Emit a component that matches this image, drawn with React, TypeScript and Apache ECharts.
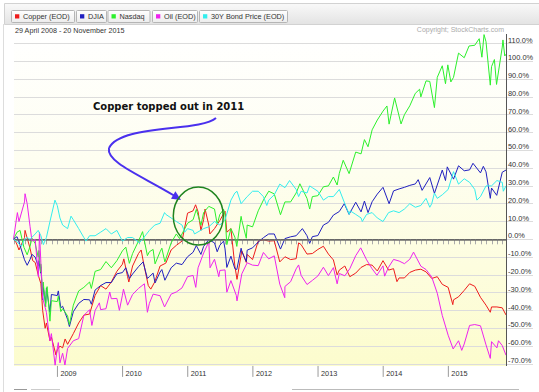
import React, { useEffect, useRef } from "react";
import * as echarts from "echarts";

// ---------- DATA (percent change since 29 April 2008) ----------
const copperData: [string, number][] = [
  ["2008-04-29", 0], ["2008-05-15", -2], ["2008-05-30", -6], ["2008-06-30", 1], ["2008-07-03", 5],
  ["2008-07-31", -5], ["2008-08-15", -12], ["2008-08-29", -13], ["2008-09-15", -20], ["2008-09-30", -25],
  ["2008-10-10", -40], ["2008-10-24", -50], ["2008-10-31", -47], ["2008-11-20", -57], ["2008-11-28", -55],
  ["2008-12-24", -65], ["2008-12-31", -62], ["2009-01-15", -60], ["2009-01-30", -61], ["2009-02-13", -56],
  ["2009-02-27", -59], ["2009-03-31", -53], ["2009-04-30", -47], ["2009-05-29", -42.6], ["2009-06-30", -42],
  ["2009-07-31", -31.5], ["2009-08-31", -26], ["2009-09-30", -28], ["2009-10-30", -24], ["2009-11-30", -18],
  ["2009-12-31", -14], ["2010-01-08", -11], ["2010-01-29", -21], ["2010-02-05", -24], ["2010-02-26", -15],
  ["2010-03-31", -8], ["2010-04-15", -6], ["2010-04-30", -14], ["2010-05-25", -26], ["2010-06-08", -28],
  ["2010-06-30", -24], ["2010-07-30", -15], ["2010-08-31", -13.4], ["2010-09-30", -6], ["2010-10-29", -3.4],
  ["2010-11-30", -1], ["2010-12-31", 14.7], ["2011-01-31", 16], ["2011-02-14", 19.4], ["2011-02-28", 15.5],
  ["2011-03-16", 5], ["2011-03-31", 11], ["2011-04-08", 17], ["2011-04-29", 8], ["2011-05-05", 3],
  ["2011-05-31", 6], ["2011-06-30", 10.6], ["2011-07-29", 15.8], ["2011-08-08", 4], ["2011-08-31", 6],
  ["2011-09-22", -15], ["2011-10-04", -22.5], ["2011-10-31", -6.5], ["2011-11-25", -13], ["2011-11-30", -8.5],
  ["2011-12-30", -11.4], ["2012-01-31", -1], ["2012-02-29", -0.3], ["2012-03-30", -1], ["2012-04-30", -0.8],
  ["2012-05-31", -12.7], ["2012-06-29", -9.8], ["2012-07-31", -11.4], ["2012-08-31", -10.9], ["2012-09-14", -2],
  ["2012-09-28", -3], ["2012-10-31", -8.3], ["2012-11-30", -8], ["2012-12-31", -5.7], ["2013-01-31", -3.9],
  ["2013-02-28", -8.3], ["2013-03-28", -11.6], ["2013-04-18", -20], ["2013-04-30", -17.3], ["2013-05-31", -15],
  ["2013-06-28", -21], ["2013-07-31", -19], ["2013-08-30", -15.8], ["2013-09-30", -14.2], ["2013-10-31", -14.5],
  ["2013-11-29", -17.8], ["2013-12-31", -12], ["2014-01-31", -17.3], ["2014-02-28", -16.5], ["2014-03-19", -23.8],
  ["2014-03-31", -21.7], ["2014-04-30", -21.7], ["2014-05-30", -18.6], ["2014-06-30", -17.3], ["2014-07-31", -16.8],
  ["2014-08-29", -18.3], ["2014-09-30", -22], ["2014-10-31", -21], ["2014-11-28", -25.3], ["2014-12-31", -27],
  ["2015-01-26", -36.7], ["2015-01-30", -34], ["2015-02-27", -32.3], ["2015-03-31", -28.7], ["2015-04-30", -25],
  ["2015-05-29", -26.4], ["2015-06-30", -32.6], ["2015-07-31", -37], ["2015-08-24", -41], ["2015-08-31", -38],
  ["2015-09-30", -38], ["2015-10-30", -38.5], ["2015-11-20", -42.5],
];

const djiaData: [string, number][] = [
  ["2008-04-29", 0], ["2008-05-19", 1.5], ["2008-05-30", -1.5], ["2008-06-30", -11.5], ["2008-07-15", -14.6],
  ["2008-07-31", -11.3], ["2008-08-11", -8.5], ["2008-08-29", -10], ["2008-09-15", -15], ["2008-09-19", -12],
  ["2008-09-29", -19], ["2008-09-30", -15.4], ["2008-10-10", -34], ["2008-10-13", -27], ["2008-10-27", -36],
  ["2008-10-31", -27.3], ["2008-11-20", -41], ["2008-11-28", -31], ["2008-12-31", -31.6], ["2009-01-06", -29],
  ["2009-01-20", -38.5], ["2009-01-30", -37.6], ["2009-02-27", -45], ["2009-03-09", -49], ["2009-03-31", -40.7],
  ["2009-04-30", -36], ["2009-05-29", -33.8], ["2009-06-30", -34], ["2009-07-10", -36.5], ["2009-07-31", -28.5],
  ["2009-08-31", -26], ["2009-09-30", -24.3], ["2009-10-30", -24.3], ["2009-11-30", -19.4], ["2009-12-31", -18.7],
  ["2010-01-19", -16], ["2010-02-08", -22], ["2010-02-26", -19.5], ["2010-03-31", -15.4], ["2010-04-26", -12.7],
  ["2010-05-20", -22], ["2010-05-31", -21], ["2010-06-21", -19], ["2010-07-02", -24.5], ["2010-07-30", -18.4],
  ["2010-08-09", -17], ["2010-08-26", -23], ["2010-09-30", -16], ["2010-10-29", -13.4], ["2010-11-30", -14.2],
  ["2010-12-31", -9.8], ["2011-01-31", -7.3], ["2011-02-18", -3.5], ["2011-03-16", -8.5], ["2011-03-31", -4],
  ["2011-04-29", -0.2], ["2011-05-31", -2], ["2011-06-15", -7], ["2011-06-30", -3.3], ["2011-07-21", -1],
  ["2011-07-29", -5.4], ["2011-08-08", -15.8], ["2011-08-31", -9.5], ["2011-09-22", -16.5], ["2011-10-03", -17],
  ["2011-10-27", -5], ["2011-10-31", -6.8], ["2011-11-25", -12.5], ["2011-11-30", -6.1], ["2011-12-30", -4.8],
  ["2012-01-31", -1.5], ["2012-02-29", 0.9], ["2012-03-30", 3], ["2012-04-30", 3], ["2012-06-04", -5.5],
  ["2012-06-29", 0.4], ["2012-07-31", 1.4], ["2012-08-31", 2], ["2012-10-05", 6], ["2012-10-31", 2],
  ["2012-11-15", -2.3], ["2012-11-30", 1.5], ["2012-12-31", 2.1], ["2013-01-31", 8], ["2013-02-28", 9.5],
  ["2013-03-28", 13.6], ["2013-04-30", 15.6], ["2013-05-28", 20], ["2013-06-24", 14], ["2013-07-31", 20.8],
  ["2013-08-30", 15.4], ["2013-09-18", 21.5], ["2013-10-08", 15], ["2013-10-31", 21.1], ["2013-11-29", 25.4],
  ["2013-12-31", 29.2], ["2014-02-03", 20], ["2014-02-28", 27.2], ["2014-03-31", 28.3], ["2014-04-30", 29.2],
  ["2014-05-30", 30.3], ["2014-06-30", 31.1], ["2014-07-16", 33.5], ["2014-08-07", 27.5], ["2014-09-19", 34.7],
  ["2014-10-15", 25.8], ["2014-11-28", 38.9], ["2014-12-16", 33], ["2014-12-26", 40.7], ["2015-01-30", 33.8],
  ["2015-02-27", 41.3], ["2015-03-31", 38.5], ["2015-04-30", 39], ["2015-05-19", 42.7], ["2015-06-30", 37.3],
  ["2015-07-16", 41], ["2015-07-31", 37.9], ["2015-08-24", 23], ["2015-08-31", 28.8], ["2015-09-29", 24.7],
  ["2015-10-30", 37.7], ["2015-11-20", 38.9],
];

const nasdaqData: [string, number][] = [
  ["2008-04-29", 0], ["2008-05-19", 4], ["2008-06-05", 5], ["2008-06-27", -4.6], ["2008-07-15", -8.7],
  ["2008-07-31", -4], ["2008-08-11", 0.6], ["2008-08-29", -2.4], ["2008-09-15", -10], ["2008-09-19", -6.3],
  ["2008-09-29", -18.3], ["2008-09-30", -14], ["2008-10-10", -32], ["2008-10-13", -24], ["2008-10-27", -38],
  ["2008-10-31", -29], ["2008-11-04", -26.6], ["2008-11-20", -46], ["2008-11-28", -34.5], ["2008-12-31", -35],
  ["2009-01-06", -31.9], ["2009-01-20", -40.6], ["2009-01-30", -39], ["2009-02-27", -43], ["2009-03-09", -48],
  ["2009-03-31", -37], ["2009-04-30", -29], ["2009-05-29", -27], ["2009-06-30", -24], ["2009-07-10", -27.6],
  ["2009-07-31", -18], ["2009-08-31", -17], ["2009-09-30", -12.5], ["2009-10-30", -16], ["2009-11-30", -12],
  ["2009-12-31", -6.5], ["2010-01-19", -4.4], ["2010-02-08", -13.5], ["2010-02-26", -8], ["2010-03-31", -1],
  ["2010-04-23", 4.3], ["2010-05-20", -9.2], ["2010-05-31", -7], ["2010-06-21", -5.7], ["2010-07-02", -13.8],
  ["2010-07-30", -7], ["2010-08-09", -5], ["2010-08-26", -12.7], ["2010-09-30", -2], ["2010-10-29", 3],
  ["2010-11-16", 0.4], ["2010-11-30", 3], ["2010-12-31", 9], ["2011-01-31", 11], ["2011-02-18", 16.8],
  ["2011-03-16", 7.9], ["2011-03-31", 15], ["2011-04-29", 18.5], ["2011-05-31", 17], ["2011-06-15", 8.5],
  ["2011-06-30", 14], ["2011-07-21", 16.8], ["2011-07-29", 13.6], ["2011-08-08", -3], ["2011-08-31", 6],
  ["2011-09-22", 1.2], ["2011-10-03", -4], ["2011-10-27", 12.9], ["2011-10-31", 10.6], ["2011-11-25", 0.6],
  ["2011-11-30", 8], ["2011-12-30", 7], ["2012-01-31", 16], ["2012-02-29", 22], ["2012-03-30", 27],
  ["2012-04-30", 25.5], ["2012-06-04", 13.8], ["2012-06-29", 21], ["2012-07-31", 21], ["2012-08-31", 26],
  ["2012-09-21", 31.2], ["2012-10-31", 23], ["2012-11-15", 17], ["2012-11-30", 24], ["2012-12-31", 24.5],
  ["2013-01-31", 29.5], ["2013-02-28", 30], ["2013-03-28", 35], ["2013-04-18", 30.5], ["2013-04-30", 37],
  ["2013-05-22", 44.4], ["2013-06-24", 36.9], ["2013-07-31", 49], ["2013-08-30", 48], ["2013-09-18", 56],
  ["2013-10-08", 52], ["2013-10-31", 61.5], ["2013-11-29", 67], ["2013-12-31", 72], ["2014-01-22", 74.9],
  ["2014-02-03", 64.7], ["2014-03-06", 79.4], ["2014-04-11", 64.8], ["2014-04-30", 70], ["2014-05-30", 75],
  ["2014-06-30", 82], ["2014-07-24", 84.3], ["2014-07-31", 80], ["2014-08-29", 89], ["2014-09-19", 88.7],
  ["2014-10-15", 74], ["2014-10-31", 91], ["2014-11-28", 97.5], ["2014-12-16", 87.4], ["2014-12-29", 98],
  ["2015-01-15", 88.4], ["2015-01-30", 91], ["2015-02-27", 104.6], ["2015-03-31", 102], ["2015-04-27", 108.6],
  ["2015-05-29", 109], ["2015-06-23", 112.7], ["2015-07-08", 102.3], ["2015-07-20", 115], ["2015-07-31", 111],
  ["2015-08-24", 86.6], ["2015-08-31", 97], ["2015-09-16", 101], ["2015-09-28", 87], ["2015-10-30", 108],
  ["2015-11-03", 112], ["2015-11-13", 103], ["2015-11-20", 104],
];

const oilData: [string, number][] = [
  ["2008-04-29", 0], ["2008-05-21", 15], ["2008-05-30", 10], ["2008-06-30", 21], ["2008-07-03", 25.6],
  ["2008-07-15", 20], ["2008-07-31", 7.3], ["2008-08-11", -1], ["2008-08-29", 0], ["2008-09-16", -21],
  ["2008-09-22", 4], ["2008-09-30", -13], ["2008-10-10", -33], ["2008-10-31", -41], ["2008-11-20", -57],
  ["2008-11-28", -53], ["2008-12-19", -70.7], ["2008-12-31", -61.4], ["2009-01-06", -58], ["2009-01-15", -69.4],
  ["2009-01-30", -64], ["2009-02-12", -70.6], ["2009-02-27", -61.3], ["2009-03-31", -57], ["2009-04-30", -55.8],
  ["2009-05-29", -42.7], ["2009-06-30", -39.6], ["2009-07-13", -48.4], ["2009-07-31", -40], ["2009-08-24", -35.7],
  ["2009-08-31", -39.5], ["2009-09-30", -39], ["2009-10-21", -29.6], ["2009-10-30", -33.4], ["2009-11-30", -33.2],
  ["2009-12-14", -39.9], ["2009-12-31", -31.4], ["2010-01-06", -28], ["2010-01-29", -37], ["2010-02-26", -31],
  ["2010-03-31", -27.6], ["2010-05-03", -25], ["2010-05-20", -41], ["2010-05-31", -36], ["2010-06-21", -30.8],
  ["2010-07-30", -31.7], ["2010-08-24", -38], ["2010-09-30", -30.8], ["2010-10-29", -29.6], ["2010-11-30", -27.3],
  ["2010-12-31", -21], ["2011-01-31", -20.3], ["2011-02-15", -27], ["2011-02-28", -16], ["2011-03-31", -7.7],
  ["2011-04-29", -1.5], ["2011-05-06", -16], ["2011-05-31", -11.2], ["2011-06-24", -21], ["2011-06-30", -17.5],
  ["2011-07-29", -17.2], ["2011-08-08", -29.7], ["2011-08-31", -23.2], ["2011-09-30", -31.5], ["2011-10-04", -34.6],
  ["2011-10-31", -19.4], ["2011-11-30", -13.2], ["2011-12-30", -14.5], ["2012-01-31", -14.8], ["2012-02-29", -7.4],
  ["2012-03-30", -11], ["2012-04-30", -9.3], ["2012-05-31", -25.2], ["2012-06-28", -32.8], ["2012-06-29", -26.5],
  ["2012-07-31", -23.8], ["2012-08-31", -16.6], ["2012-09-14", -14.4], ["2012-09-28", -20.3], ["2012-10-31", -25.4],
  ["2012-11-30", -23.1], ["2012-12-31", -20.6], ["2013-01-31", -15.7], ["2013-02-28", -20.4], ["2013-03-28", -15.9],
  ["2013-04-18", -25], ["2013-04-30", -19.2], ["2013-05-31", -20.5], ["2013-06-28", -16.5], ["2013-07-31", -9.2],
  ["2013-08-28", -4.8], ["2013-09-30", -11.5], ["2013-10-31", -16.6], ["2013-11-27", -20.2], ["2013-12-31", -14.9],
  ["2014-01-09", -20.7], ["2014-01-31", -15.7], ["2014-02-28", -11.3], ["2014-03-31", -12.2], ["2014-04-30", -13.7],
  ["2014-05-30", -11.2], ["2014-06-20", -7.2], ["2014-07-31", -15.1], ["2014-08-29", -17], ["2014-09-30", -21.2],
  ["2014-10-31", -30.3], ["2014-11-28", -42.8], ["2014-12-31", -53.9], ["2015-01-28", -61.6], ["2015-02-27", -57],
  ["2015-03-17", -62.4], ["2015-03-31", -58.8], ["2015-04-30", -48.4], ["2015-05-29", -47.9], ["2015-06-30", -48.6],
  ["2015-07-31", -59.3], ["2015-08-24", -66.9], ["2015-08-31", -57.5], ["2015-09-30", -61], ["2015-10-09", -57],
  ["2015-10-30", -59.7], ["2015-11-20", -65.1],
];

const bondData: [string, number][] = [
  ["2008-04-29", 0], ["2008-05-15", -1], ["2008-06-13", -4], ["2008-06-30", 0], ["2008-07-15", 1],
  ["2008-07-31", 0], ["2008-08-29", 3], ["2008-09-15", 5], ["2008-09-30", 2], ["2008-10-14", -3],
  ["2008-10-31", 1], ["2008-11-20", 10], ["2008-12-18", 22], ["2008-12-31", 19], ["2009-01-15", 12],
  ["2009-01-30", 8], ["2009-02-27", 6], ["2009-03-18", 13], ["2009-03-31", 11], ["2009-04-30", 6],
  ["2009-05-29", 1], ["2009-06-10", -1], ["2009-06-30", 2], ["2009-07-31", 2], ["2009-08-31", 4],
  ["2009-09-30", 6], ["2009-10-30", 3], ["2009-11-30", 5], ["2009-12-31", -1], ["2010-01-29", 1],
  ["2010-02-26", 1], ["2010-04-05", -2], ["2010-04-30", 1], ["2010-05-31", 5], ["2010-06-30", 8],
  ["2010-07-30", 9], ["2010-08-24", 15], ["2010-08-31", 14], ["2010-09-30", 12], ["2010-10-29", 10],
  ["2010-11-30", 8], ["2010-12-15", 4], ["2010-12-31", 6], ["2011-01-31", 5], ["2011-02-08", 3],
  ["2011-03-31", 6], ["2011-04-29", 7], ["2011-05-31", 10], ["2011-06-30", 8], ["2011-07-29", 11],
  ["2011-08-31", 22], ["2011-09-22", 26], ["2011-10-04", 27], ["2011-10-27", 20], ["2011-11-30", 24],
  ["2011-12-30", 27], ["2012-01-31", 27], ["2012-02-29", 24], ["2012-03-19", 19], ["2012-03-30", 22],
  ["2012-04-30", 25], ["2012-05-31", 31], ["2012-06-29", 29], ["2012-07-25", 33], ["2012-08-31", 28],
  ["2012-09-14", 24], ["2012-09-28", 27], ["2012-10-31", 26], ["2012-11-15", 30], ["2012-11-30", 29],
  ["2012-12-31", 27], ["2013-01-31", 22], ["2013-02-28", 24], ["2013-03-28", 24], ["2013-04-30", 28],
  ["2013-05-31", 20], ["2013-06-25", 14], ["2013-06-30", 16], ["2013-07-31", 14], ["2013-08-30", 12],
  ["2013-09-06", 10], ["2013-09-30", 14], ["2013-10-31", 15], ["2013-11-29", 12], ["2013-12-31", 10],
  ["2014-01-31", 15], ["2014-02-28", 16], ["2014-03-31", 15], ["2014-04-30", 17], ["2014-05-30", 20],
  ["2014-06-30", 18], ["2014-07-31", 19], ["2014-08-29", 23], ["2014-09-19", 18], ["2014-09-30", 20],
  ["2014-10-15", 26], ["2014-10-31", 23], ["2014-11-28", 25], ["2014-12-31", 28], ["2015-01-30", 38],
  ["2015-02-27", 31], ["2015-03-31", 34], ["2015-04-30", 32], ["2015-05-29", 28], ["2015-06-10", 22],
  ["2015-06-30", 24], ["2015-07-31", 30], ["2015-08-31", 30], ["2015-09-30", 33], ["2015-10-30", 32],
  ["2015-11-05", 27], ["2015-11-20", 30],
];

const seriesNames = ["Copper (EOD)", "DJIA", "Nasdaq", "Oil (EOD)", "30Y Bond Price (EOD)"];
const seriesColors = ["#ee1c1c", "#2020c0", "#2cf02c", "#ee22ee", "#33eeee"];
const seriesValues = [copperData, djiaData, nasdaqData, oilData, bondData];
const yearTicks = [2009, 2010, 2011, 2012, 2013, 2014, 2015];
const startDate = "2008-04-29";
const endDate = "2015-11-20";
const dateRangeText = "29 April 2008 - 20 November 2015";
const copyrightText = "Copyright; StockCharts.com";
const annotationText = "Copper topped out in 2011";

// ---------- helpers ----------
function toYear(s: string): number {
  const [y, m, d] = s.split("-").map(Number);
  const a = Date.UTC(y, 0, 1);
  const b = Date.UTC(y + 1, 0, 1);
  return y + (Date.UTC(y, m - 1, d) - a) / (b - a);
}

const FONT = '"Liberation Sans", Arial, Helvetica, sans-serif';

// legend button layout
const legendButtons = [
  { x: 11, w: 63 },
  { x: 76, w: 30 },
  { x: 107.5, w: 42 },
  { x: 152, w: 45 },
  { x: 199, w: 88 },
];

function buildGraphic(): any[] {
  const els: any[] = [];
  // page left border
  els.push({ type: "line", shape: { x1: 3.5, y1: 24, x2: 3.5, y2: 392 }, style: { stroke: "#dddddd", lineWidth: 1 }, z: -20 });
  // legend bar
  els.push({
    type: "rect",
    shape: { x: 4.5, y: 3.5, width: 540, height: 21 },
    style: {
      fill: new echarts.graphic.LinearGradient(0, 0, 0, 1, [
        { offset: 0, color: "#f9f9f9" },
        { offset: 1, color: "#e3e3e3" },
      ]),
      stroke: "#d2d2d2",
      lineWidth: 1,
    },
    z: -20,
  });
  legendButtons.forEach((b, i) => {
    els.push({
      type: "rect",
      shape: { x: b.x + 0.5, y: 10.5, width: b.w, height: 12, r: 1 },
      style: {
        fill: new echarts.graphic.LinearGradient(0, 0, 0, 1, [
          { offset: 0, color: "#ffffff" },
          { offset: 1, color: "#ececec" },
        ]),
        stroke: "#b5b5b5",
        lineWidth: 1,
      },
      z: -19,
    });
    els.push({
      type: "rect",
      shape: { x: b.x + 4, y: 14.2, width: 4.3, height: 4.3 },
      style: { fill: seriesColors[i] },
      z: -18,
    });
    els.push({
      type: "text",
      x: b.x + 12,
      y: 16.6,
      style: {
        text: seriesNames[i],
        fill: "#333333",
        font: `7.3px ${FONT}`,
        align: "left",
        verticalAlign: "middle",
        textAlign: "left",
        textVerticalAlign: "middle",
      },
      z: -18,
    });
  });
  // date text
  els.push({
    type: "text",
    x: 15,
    y: 30,
    style: { text: dateRangeText, fill: "#333333", font: `7.2px ${FONT}`, align: "left", verticalAlign: "middle", textAlign: "left", textVerticalAlign: "middle" },
    z: 5,
  });
  // copyright
  els.push({
    type: "text",
    x: 504,
    y: 29.5,
    style: { text: copyrightText, fill: "#ababab", font: `7px ${FONT}`, align: "right", verticalAlign: "middle", textAlign: "right", textVerticalAlign: "middle" },
    z: 5,
  });
  // plot background gradient
  els.push({
    type: "rect",
    shape: { x: 14, y: 34, width: 492, height: 332 },
    style: {
      fill: new echarts.graphic.LinearGradient(0, 0, 0, 1, [
        { offset: 0, color: "#ffffff" },
        { offset: 0.4, color: "#fefef0" },
        { offset: 1, color: "#fcfccd" },
      ]),
    },
    z: -10,
  });
  // right axis line
  els.push({ type: "line", shape: { x1: 506.5, y1: 34, x2: 506.5, y2: 366 }, style: { stroke: "#555555", lineWidth: 1 }, z: 10 });
  // bottom remnants
  els.push({ type: "line", shape: { x1: 14, y1: 389.5, x2: 27, y2: 389.5 }, style: { stroke: "#999999", lineWidth: 1 }, z: 1 });
  els.push({ type: "line", shape: { x1: 31, y1: 389.5, x2: 60, y2: 389.5 }, style: { stroke: "#cccccc", lineWidth: 1 }, z: 1 });
  els.push({ type: "line", shape: { x1: 292, y1: 389.5, x2: 519, y2: 389.5 }, style: { stroke: "#bbbbbb", lineWidth: 1 }, z: 1 });
  // annotation
  els.push({
    type: "text",
    x: 93,
    y: 106,
    style: { text: annotationText, fill: "#111111", font: `bold 10px "DejaVu Sans", Verdana, sans-serif`, align: "left", verticalAlign: "middle", textAlign: "left", textVerticalAlign: "middle" },
    z: 50,
  });
  const arrowColor = "#4a30ee";
  els.push({
    type: "bezierCurve",
    shape: { x1: 216, y1: 118, cpx1: 200, cpy1: 132, cpx2: 120, cpy2: 124, x2: 109, y2: 148 },
    style: { stroke: arrowColor, lineWidth: 2, fill: "none" },
    z: 50,
  });
  els.push({
    type: "bezierCurve",
    shape: { x1: 109, y1: 148, cpx1: 106, cpy1: 162, cpx2: 140, cpy2: 175, x2: 174, y2: 195.5 },
    style: { stroke: arrowColor, lineWidth: 2, fill: "none" },
    z: 50,
  });
  els.push({
    type: "polygon",
    shape: { points: [[181, 200], [171, 198.7], [175.4, 191.2]] },
    style: { fill: arrowColor },
    z: 50,
  });
  els.push({
    type: "ellipse",
    shape: { cx: 198.3, cy: 216, rx: 25, ry: 29 },
    style: { fill: "none", stroke: "#1f841f", lineWidth: 1.5 },
    z: 50,
  });
  return els;
}

export default function App() {
  const ref = useRef<HTMLDivElement>(null);
  useEffect(() => {
    if (!ref.current) return;
    const chart = echarts.init(ref.current, undefined, { renderer: "svg" });
    const xMin = 2008 + 4 / 12;
    const xMax = toYear(endDate);
    const series: any[] = seriesValues.map((vals, i) => ({
      name: seriesNames[i],
      type: "line",
      data: vals.map(([d, v]) => [toYear(d), v]),
      showSymbol: false,
      symbol: "none",
      clip: false,
      z: 3 + i,
      lineStyle: { color: seriesColors[i], width: 1 },
      itemStyle: { color: seriesColors[i] },
      ...(i === 0
        ? {
            markLine: {
              silent: true,
              symbol: ["none", "none"],
              label: { show: false },
              lineStyle: { color: "#6e6e6e", width: 1.5, type: "solid" },
              data: [{ yAxis: 0 }],
            },
          }
        : {}),
    }));
    series.push({
      type: "custom",
      silent: true,
      clip: false,
      z: 2,
      data: yearTicks.map((y) => [y, -70]),
      renderItem: (_p: any, api: any) => {
        const p = api.coord([api.value(0), api.value(1)]);
        return {
          type: "line",
          shape: { x1: p[0], y1: p[1] + 2, x2: p[0], y2: p[1] + 13 },
          style: { stroke: "#9a9a9a", lineWidth: 1 },
        };
      },
    });
    chart.setOption({
      animation: false,
      backgroundColor: "#ffffff",
      textStyle: { fontFamily: FONT },
      grid: { left: 14, right: 33, top: 43.5, bottom: 28.1, containLabel: false },
      xAxis: {
        type: "value",
        min: xMin,
        max: xMax,
        interval: 1 / 12,
        offset: 2,
        axisLine: { show: true, lineStyle: { color: "#555555", width: 1 } },
        axisTick: { show: true, length: 5, lineStyle: { color: "#aaaaaa" } },
        splitLine: { show: false },
        axisLabel: {
          show: true,
          margin: 4,
          align: "left",
          padding: [0, 0, 0, 3],
          color: "#333333",
          fontSize: 7.3,
          fontFamily: FONT,
          formatter: (v: number) => (Math.abs(v - Math.round(v)) < 0.01 ? String(Math.round(v)) : ""),
        },
      },
      yAxis: {
        type: "value",
        position: "right",
        min: -70,
        max: 110,
        interval: 10,
        axisLine: { show: false },
        axisTick: { show: true, length: 27, lineStyle: { color: "#dcdcdc" } },
        splitLine: { show: true, lineStyle: { color: "#dcdcdc", width: 1 } },
        axisLabel: {
          margin: 2,
          align: "left",
          verticalAlign: "bottom",
          color: "#333333",
          fontSize: 7.4,
          fontFamily: FONT,
          formatter: (v: number) => v.toFixed(1) + "%",
        },
      },
      series,
      graphic: { elements: buildGraphic() },
    });
    return () => chart.dispose();
  }, []);
  return <div ref={ref} style={{ position: "absolute", left: 0, top: 0, width: 539, height: 392 }} />;
}
